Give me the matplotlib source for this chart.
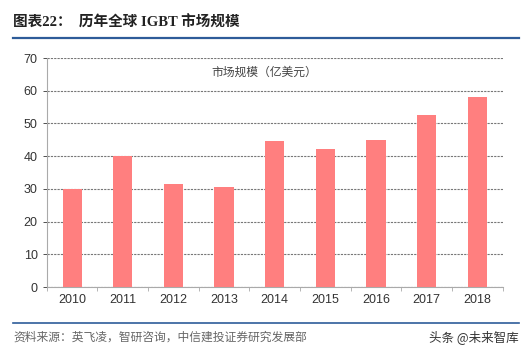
import matplotlib.pyplot as plt
from matplotlib.lines import Line2D

plt.rcParams['font.family'] = ['Liberation Sans', 'Noto Sans CJK SC', 'DejaVu Sans']

years = ['2010', '2011', '2012', '2013', '2014', '2015', '2016', '2017', '2018']
market_size = [30.0, 40.0, 31.5, 30.5, 44.8, 42.3, 45.1, 52.6, 58.2]
yticks = [0, 10, 20, 30, 40, 50, 60, 70]

fig = plt.figure(figsize=(5.32, 3.54), dpi=100)
ax = fig.add_axes([0.088, 0.189, 0.857, 0.647])

x = range(len(years))
ax.bar(x, market_size, width=0.38, color='#ff7f7f', zorder=3)
ax.set_xlim(-0.5, len(years) - 0.5)
ax.set_ylim(0, 70)
ax.set_yticks(yticks)
ax.set_xticks(list(x))
ax.set_xticklabels(years)
ax.yaxis.grid(True, linestyle=(0, (2, 1)), color='#777777', linewidth=0.8, zorder=0)
ax.tick_params(axis='both', labelsize=9, colors='#333333', length=3, width=0.6)
ax.tick_params(axis='x', length=0, pad=5)
for s in ['top', 'right']:
    ax.spines[s].set_visible(False)
for s in ['left', 'bottom']:
    ax.spines[s].set_color('#aaaaaa')
    ax.spines[s].set_linewidth(0.8)
# minor ticks between categories on the x axis
ax.set_xticks([i + 0.5 for i in range(-1, len(years))], minor=True)
ax.tick_params(axis='x', which='minor', length=3, color='#aaaaaa')

ax.text(0.36, 0.94, '市场规模（亿美元）', transform=ax.transAxes,
        fontsize=8.5, color='#444444', va='center', family=['Noto Sans CJK SC'])

# header / footer
fig.text(0.025, 0.935, '图表22：  历年全球 IGBT 市场规模', fontsize=10.5,
         fontweight='bold', color='#222222', va='center',
         family=['Liberation Serif', 'Noto Sans CJK SC'])
fig.add_artist(Line2D([0.025, 0.975], [0.893, 0.893], color='#2e5c99', linewidth=1.6))
fig.add_artist(Line2D([0.025, 0.975], [0.088, 0.088], color='#2e5c99', linewidth=1.2))
fig.text(0.025, 0.048, '资料来源：英飞凌，智研咨询，中信建投证券研究发展部', fontsize=8.5,
         color='#666666', va='center', style='italic', family=['Noto Sans CJK SC'])
fig.text(0.975, 0.048, '头条 @未来智库', fontsize=9, color='#333333',
         va='center', ha='right', family=['Noto Sans CJK SC'])

plt.savefig('out.png', dpi=100)
plt.close()
